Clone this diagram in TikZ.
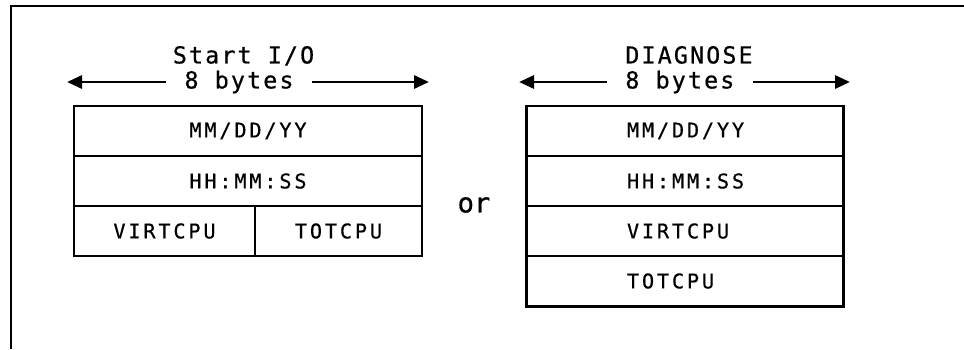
\documentclass[tikz,border=0pt]{standalone}
\usepackage{fontspec}
\setmonofont[FakeBold=0.6]{DejaVu Sans Mono}
\newfontfamily\rowfont[LetterSpace=14,FakeBold=0.6]{DejaVu Sans Mono}
\newfontfamily\titlefont[LetterSpace=9,FakeBold=0.6]{DejaVu Sans Mono}
\usetikzlibrary{arrows.meta,positioning}
\tikzset{>={Triangle[length=3mm,width=2.6mm]}}
\tikzset{field/.style={draw,line width=1.7pt,minimum height=1cm,inner sep=0pt,outer sep=0pt,
                       font=\rowfont\fontsize{11.5}{13}\selectfont},
         lfield/.style={field,minimum width=6.96cm},
         rfield/.style={field,text width=6.34cm,align=left,execute at begin node={\hspace*{2.02cm}}},
         title/.style={inner sep=0pt,font=\titlefont\fontsize{13.3}{15}\selectfont},
         bytes/.style={title,inner xsep=0.36cm},
         span/.style={line width=1.7pt},
            }

\begin{document}
\begin{tikzpicture}

    \useasboundingbox (0,0) rectangle (19.28,-6.98);

    % frame
    \coordinate (frame sw) at (0.22,-6.98);
    \coordinate (frame ne) at (19.28,-0.12);
    \draw[line width=1.7pt] (frame sw) |- (frame ne);

    % Start I/O record
    \node[lfield] (ldate) at (4.96,-2.62) {MM/DD/YY};
    \node[lfield] (ltime) [below = 0pt of ldate] {HH:MM:SS};
    \node[field,minimum width=3.62cm] (lvirt) [below right = 0pt and 0pt of ltime.south west] {VIRTCPU};
    \node[field,minimum width=3.34cm] (ltot) [right = 0pt of lvirt] {TOTCPU};

    \node[bytes] (lbytes) at (4.78,-1.64) {8 bytes};
    \node[title,anchor=base] (lname) at ([xshift=0.09cm,yshift=0.5cm]lbytes.base) {Start I/O};
    \coordinate (ltip w) at (1.34,-1.64);
    \coordinate (ltip e) at (8.58,-1.64);
    \draw[span,->] (lbytes.west) -- (ltip w);
    \draw[span,->] (lbytes.east) -- (ltip e);

    \node[font=\ttfamily\fontsize{15.5}{17}\selectfont] (or) at (9.48,-4.10) {or};

    % DIAGNOSE record
    \node[rfield] (rdate) at (13.69,-2.62) {MM/DD/YY};
    \node[rfield] (rtime) [below = 0pt of rdate] {HH:MM:SS};
    \node[rfield] (rvirt) [below = 0pt of rtime] {VIRTCPU};
    \node[rfield] (rtot) [below = 0pt of rvirt] {TOTCPU};

    \node[bytes,anchor=west] (rbytes) at (12.14,-1.64) {8 bytes};
    \node[title,anchor=base west] (rname) at ([xshift=0.36cm,yshift=0.5cm]rbytes.base west) {DIAGNOSE};
    \coordinate (rtip w) at (10.38,-1.64);
    \coordinate (rtip e) at (17.00,-1.64);
    \draw[span,->] (rbytes.west) -- (rtip w);
    \draw[span,->] (rbytes.east) -- (rtip e);

\end{tikzpicture}
\end{document}
